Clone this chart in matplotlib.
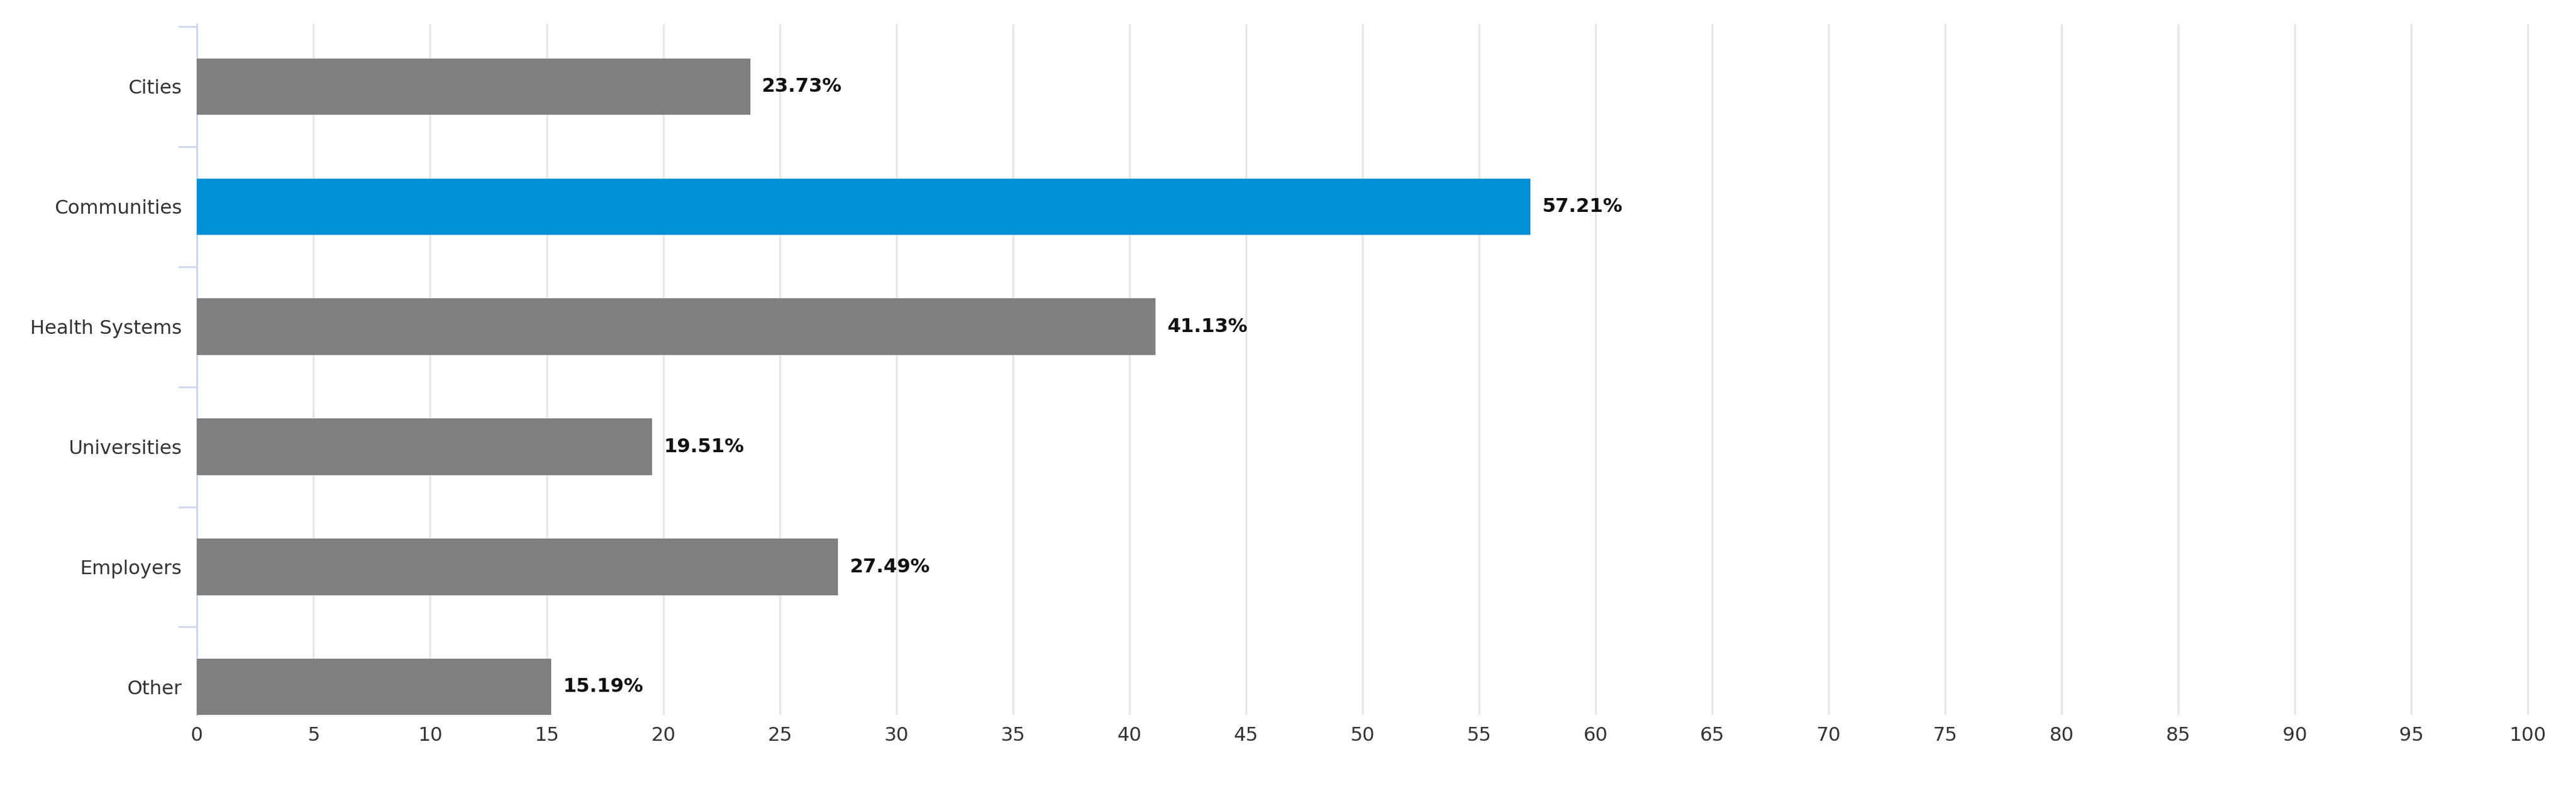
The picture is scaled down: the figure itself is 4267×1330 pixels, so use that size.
import matplotlib.pyplot as plt
import numpy as np

categories = ['Cities', 'Communities', 'Health Systems', 'Universities', 'Employers', 'Other']
values = [23.73, 57.21, 41.13, 19.51, 27.49, 15.19]
highlight = 'Communities'
xticks = list(range(0, 101, 5))

fig = plt.figure(figsize=(42.67, 13.3), dpi=100)
ax = fig.add_axes([0.0765, 0.11, 0.9075, 0.86])

y = np.arange(len(categories))
colors = ['#0090d4' if c == highlight else '#7f7f7f' for c in categories]
ax.barh(y, values, height=0.47, color=colors, zorder=3)
for yi, v in zip(y, values):
    ax.text(v + 0.5, yi, '%.2f%%' % v, va='center', ha='left',
            fontsize=23, fontweight='bold', color='#111111')

ax.set_xticks(xticks)
ax.set_yticks(y)
ax.set_yticklabels(categories)
ax.set_yticks(np.arange(-0.5, 5.6, 1), minor=True)
# set limits after ticks, set_ticks can widen them
ax.set_xlim(0, 100.3)
ax.set_ylim(5.23, -0.52)
ax.tick_params(axis='y', which='major', length=0, labelsize=23, pad=18, labelcolor='#333333')
ax.tick_params(axis='y', which='minor', length=22, color='#ccd6eb', width=2)
ax.tick_params(axis='x', length=0, labelsize=23, pad=14, labelcolor='#333333')
ax.grid(axis='x', color='#e6e6e6', linewidth=2.5, zorder=0)
for s in ['top', 'right', 'bottom']:
    ax.spines[s].set_visible(False)
ax.spines['left'].set_color('#ccd6eb')
ax.spines['left'].set_linewidth(2)

fig.savefig('out.png', dpi=100)
